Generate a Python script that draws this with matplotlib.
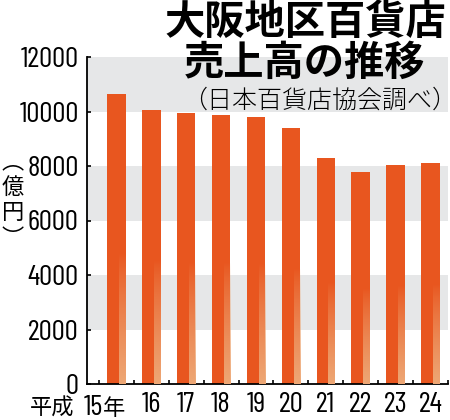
import matplotlib
matplotlib.use("Agg")
import matplotlib.pyplot as plt
import numpy as np

years = ["平成15年", "16", "17", "18", "19", "20", "21", "22", "23", "24"]
sales = [10640, 10070, 9940, 9880, 9790, 9380, 8290, 7780, 8050, 8100]
yticks = [0, 2000, 4000, 6000, 8000, 10000, 12000]
bands = [(2000, 4000), (6000, 8000), (10000, 12000)]

NUM = ["Barlow Condensed", "Archivo Narrow", "DejaVu Sans"]
CJK = "Noto Sans CJK JP"

W, H = 450, 420
fig = plt.figure(figsize=(4.5, 4.2), dpi=100)
ax = fig.add_axes([87 / W, 1 - 384 / H, (448 - 87) / W, (384 - 57) / H])

x = np.arange(len(years))
for lo, hi in bands:
    ax.axhspan(lo, hi, color="#E6E7E8", lw=0, zorder=0)

bw = 0.53
bar_color = "#E8561F"
bars = ax.bar(x, sales, width=bw, color=bar_color, zorder=2)

# light gradient stripe on the right part of each bar (lower part)
light = np.array([238, 168, 118]) / 255
grad_n = 100
for b in bars:
    x0 = b.get_x() + b.get_width() * 0.64
    x1 = b.get_x() + b.get_width()
    htop = b.get_height() * 0.45
    img = np.zeros((grad_n, 1, 4))
    img[:, 0, :3] = light
    img[:, 0, 3] = np.linspace(1, 0, grad_n) ** 0.8
    ax.imshow(img, extent=[x0, x1, 0, htop], origin="lower", aspect="auto",
              zorder=3, interpolation="bilinear")

ax.set_xlim(-0.843, 9.47)
ax.set_ylim(0, 12000)
ax.set_yticks(yticks)
ax.set_yticklabels([str(v) for v in yticks], fontfamily=NUM, fontsize=21)
ax.set_xticks(x)
# first label is drawn in three pieces (era name, number, year mark)
first = years[0]
era, num, nen = first[:2], first[2:-1], first[-1]
ax.set_xticklabels([""] + years[1:], fontsize=21, fontfamily=NUM)
ax.set_xticks(np.arange(len(years) + 1) - 0.5, minor=True)
ax.tick_params(axis="x", which="major", length=0, pad=6)
ax.tick_params(axis="x", which="minor", direction="in", length=3, width=1.2)
ax.tick_params(axis="y", direction="in", length=3, width=1.2, pad=6)

base_dy = -31
ax.annotate(nen, xy=(x[0], 0), xycoords=("data", "axes fraction"),
            xytext=(-2, base_dy), textcoords="offset pixels",
            ha="center", va="baseline", fontfamily=CJK, fontsize=16,
            annotation_clip=False)
ax.annotate(num, xy=(x[0], 0), xycoords=("data", "axes fraction"),
            xytext=(-13, base_dy), textcoords="offset pixels",
            ha="right", va="baseline", fontfamily=NUM, fontsize=21,
            annotation_clip=False)
ax.annotate(era, xy=(x[0], 0), xycoords=("data", "axes fraction"),
            xytext=(-42, base_dy), textcoords="offset pixels",
            ha="right", va="baseline", fontfamily=CJK, fontsize=16,
            annotation_clip=False)

for s in ["top", "right"]:
    ax.spines[s].set_visible(False)
ax.spines["left"].set_linewidth(1.3)
ax.spines["bottom"].set_linewidth(1.3)

fig.text(305 / W, 1 - 22 / H, "大阪地区百貨店", fontfamily=CJK, fontweight="bold",
         fontsize=29, ha="center", va="center")
fig.text(305 / W, 1 - 63 / H, "売上高の推移", fontfamily=CJK, fontweight="bold",
         fontsize=29, ha="center", va="center")
fig.text(320 / W, 1 - 100 / H, "（日本百貨店協会調べ）", fontfamily=CJK, fontweight="light",
         fontsize=18, ha="center", va="center")
fig.text(13 / W, 1 - 200 / H, "︵\n億\n円\n︶", fontfamily=CJK, fontsize=16,
         ha="center", va="center", linespacing=1.15)

fig.savefig("out.png", dpi=100)
